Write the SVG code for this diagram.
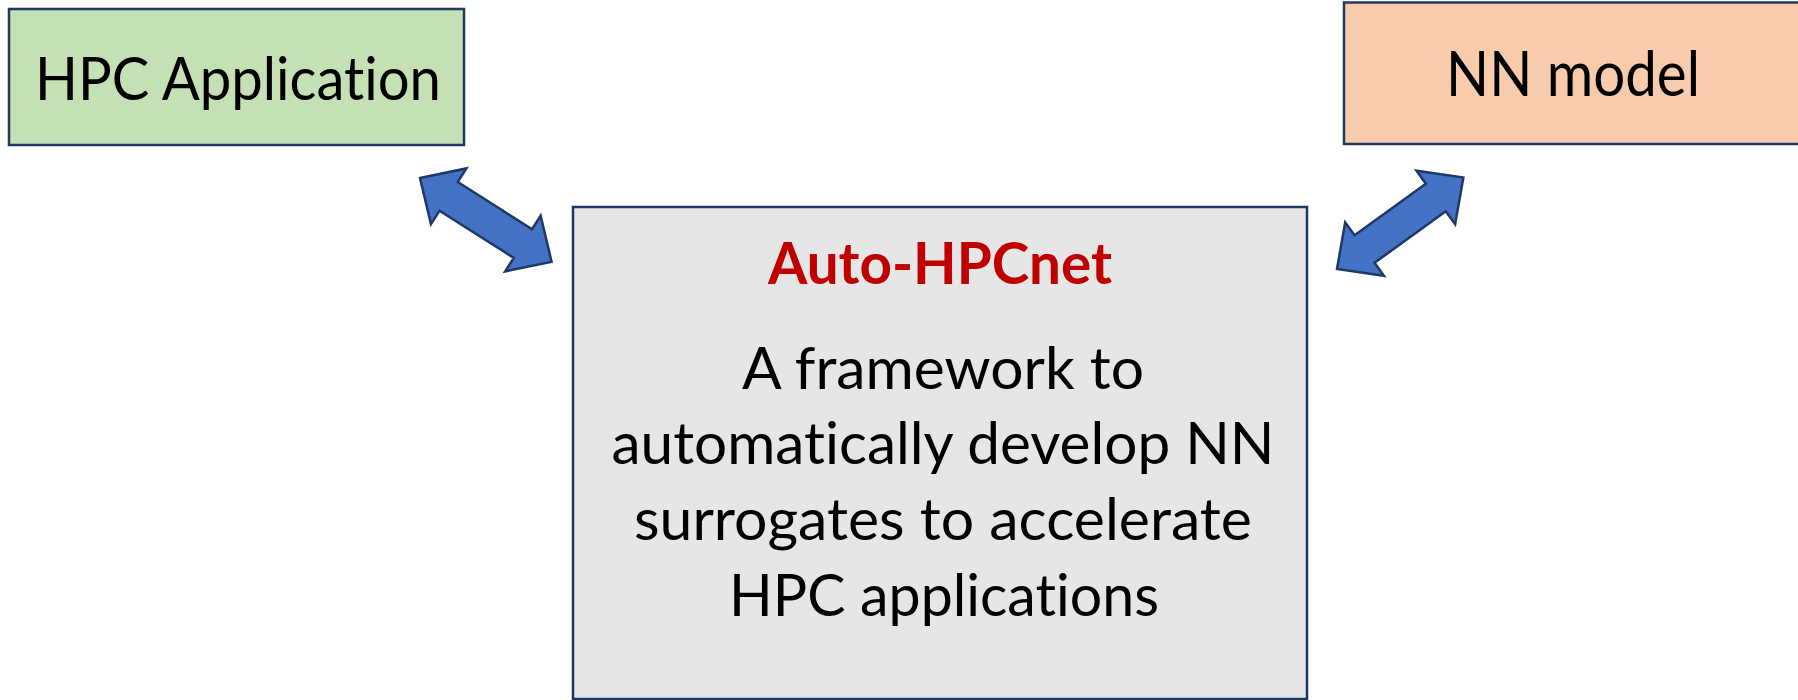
<svg xmlns="http://www.w3.org/2000/svg" width="1798" height="700" viewBox="0 0 1798 700">
  <style>
    .box { stroke: #1F3864; stroke-width: 2.5; }
    .label { font-family: Lato, "Open Sans", "Liberation Sans", sans-serif; fill: #000000; text-anchor: middle; font-variant-ligatures: none; }
    .title { font-family: Lato, "Open Sans", "Liberation Sans", sans-serif; font-weight: bold; fill: #C00000; text-anchor: middle; font-variant-ligatures: none; }
    .dbl-arrow { fill: #4472C4; stroke: #1F3864; stroke-width: 2.5; stroke-linejoin: miter; }
  </style>
  <defs>
    <!-- double-headed block arrow, tip-to-tip length 156 along +x -->
    <path id="block-arrow" d="M0,0 L34,-33 L34,-17 L122,-17 L122,-33 L156,0 L122,33 L122,17 L34,17 L34,33 Z"/>
  </defs>

  <rect width="1798" height="700" fill="#FFFFFF"/>

  <g id="hpc-application">
    <rect class="box" x="9" y="9" width="455" height="136" fill="#C5E0B4"/>
    <text class="label" x="238" y="100" font-size="60" textLength="406" lengthAdjust="spacingAndGlyphs">HPC Application</text>
  </g>

  <g id="nn-model">
    <rect class="box" x="1344" y="2.5" width="470" height="141.5" fill="#F8CBAD"/>
    <text class="label" x="1573" y="96" font-size="62" textLength="254" lengthAdjust="spacingAndGlyphs">NN model</text>
  </g>

  <g id="auto-hpcnet">
    <rect class="box" x="573" y="207" width="734" height="492" fill="#E6E6E6"/>
    <text class="title" x="940" y="284" font-size="57" textLength="344" lengthAdjust="spacingAndGlyphs">Auto-HPCnet</text>
    <text class="label" x="943" y="389" font-size="59" textLength="402" lengthAdjust="spacingAndGlyphs">A framework to</text>
    <text class="label" x="943" y="464" font-size="59" textLength="663" lengthAdjust="spacingAndGlyphs">automatically develop NN</text>
    <text class="label" x="943" y="540" font-size="59" textLength="618" lengthAdjust="spacingAndGlyphs">surrogates to accelerate</text>
    <text class="label" x="944" y="616" font-size="59" textLength="430" lengthAdjust="spacingAndGlyphs">HPC applications</text>
  </g>

  <g id="connectors">
    <use href="#block-arrow" class="dbl-arrow" transform="translate(420,178) rotate(32.5)"/>
    <use href="#block-arrow" class="dbl-arrow" transform="translate(1337,269) rotate(-35.9)"/>
  </g>
</svg>
